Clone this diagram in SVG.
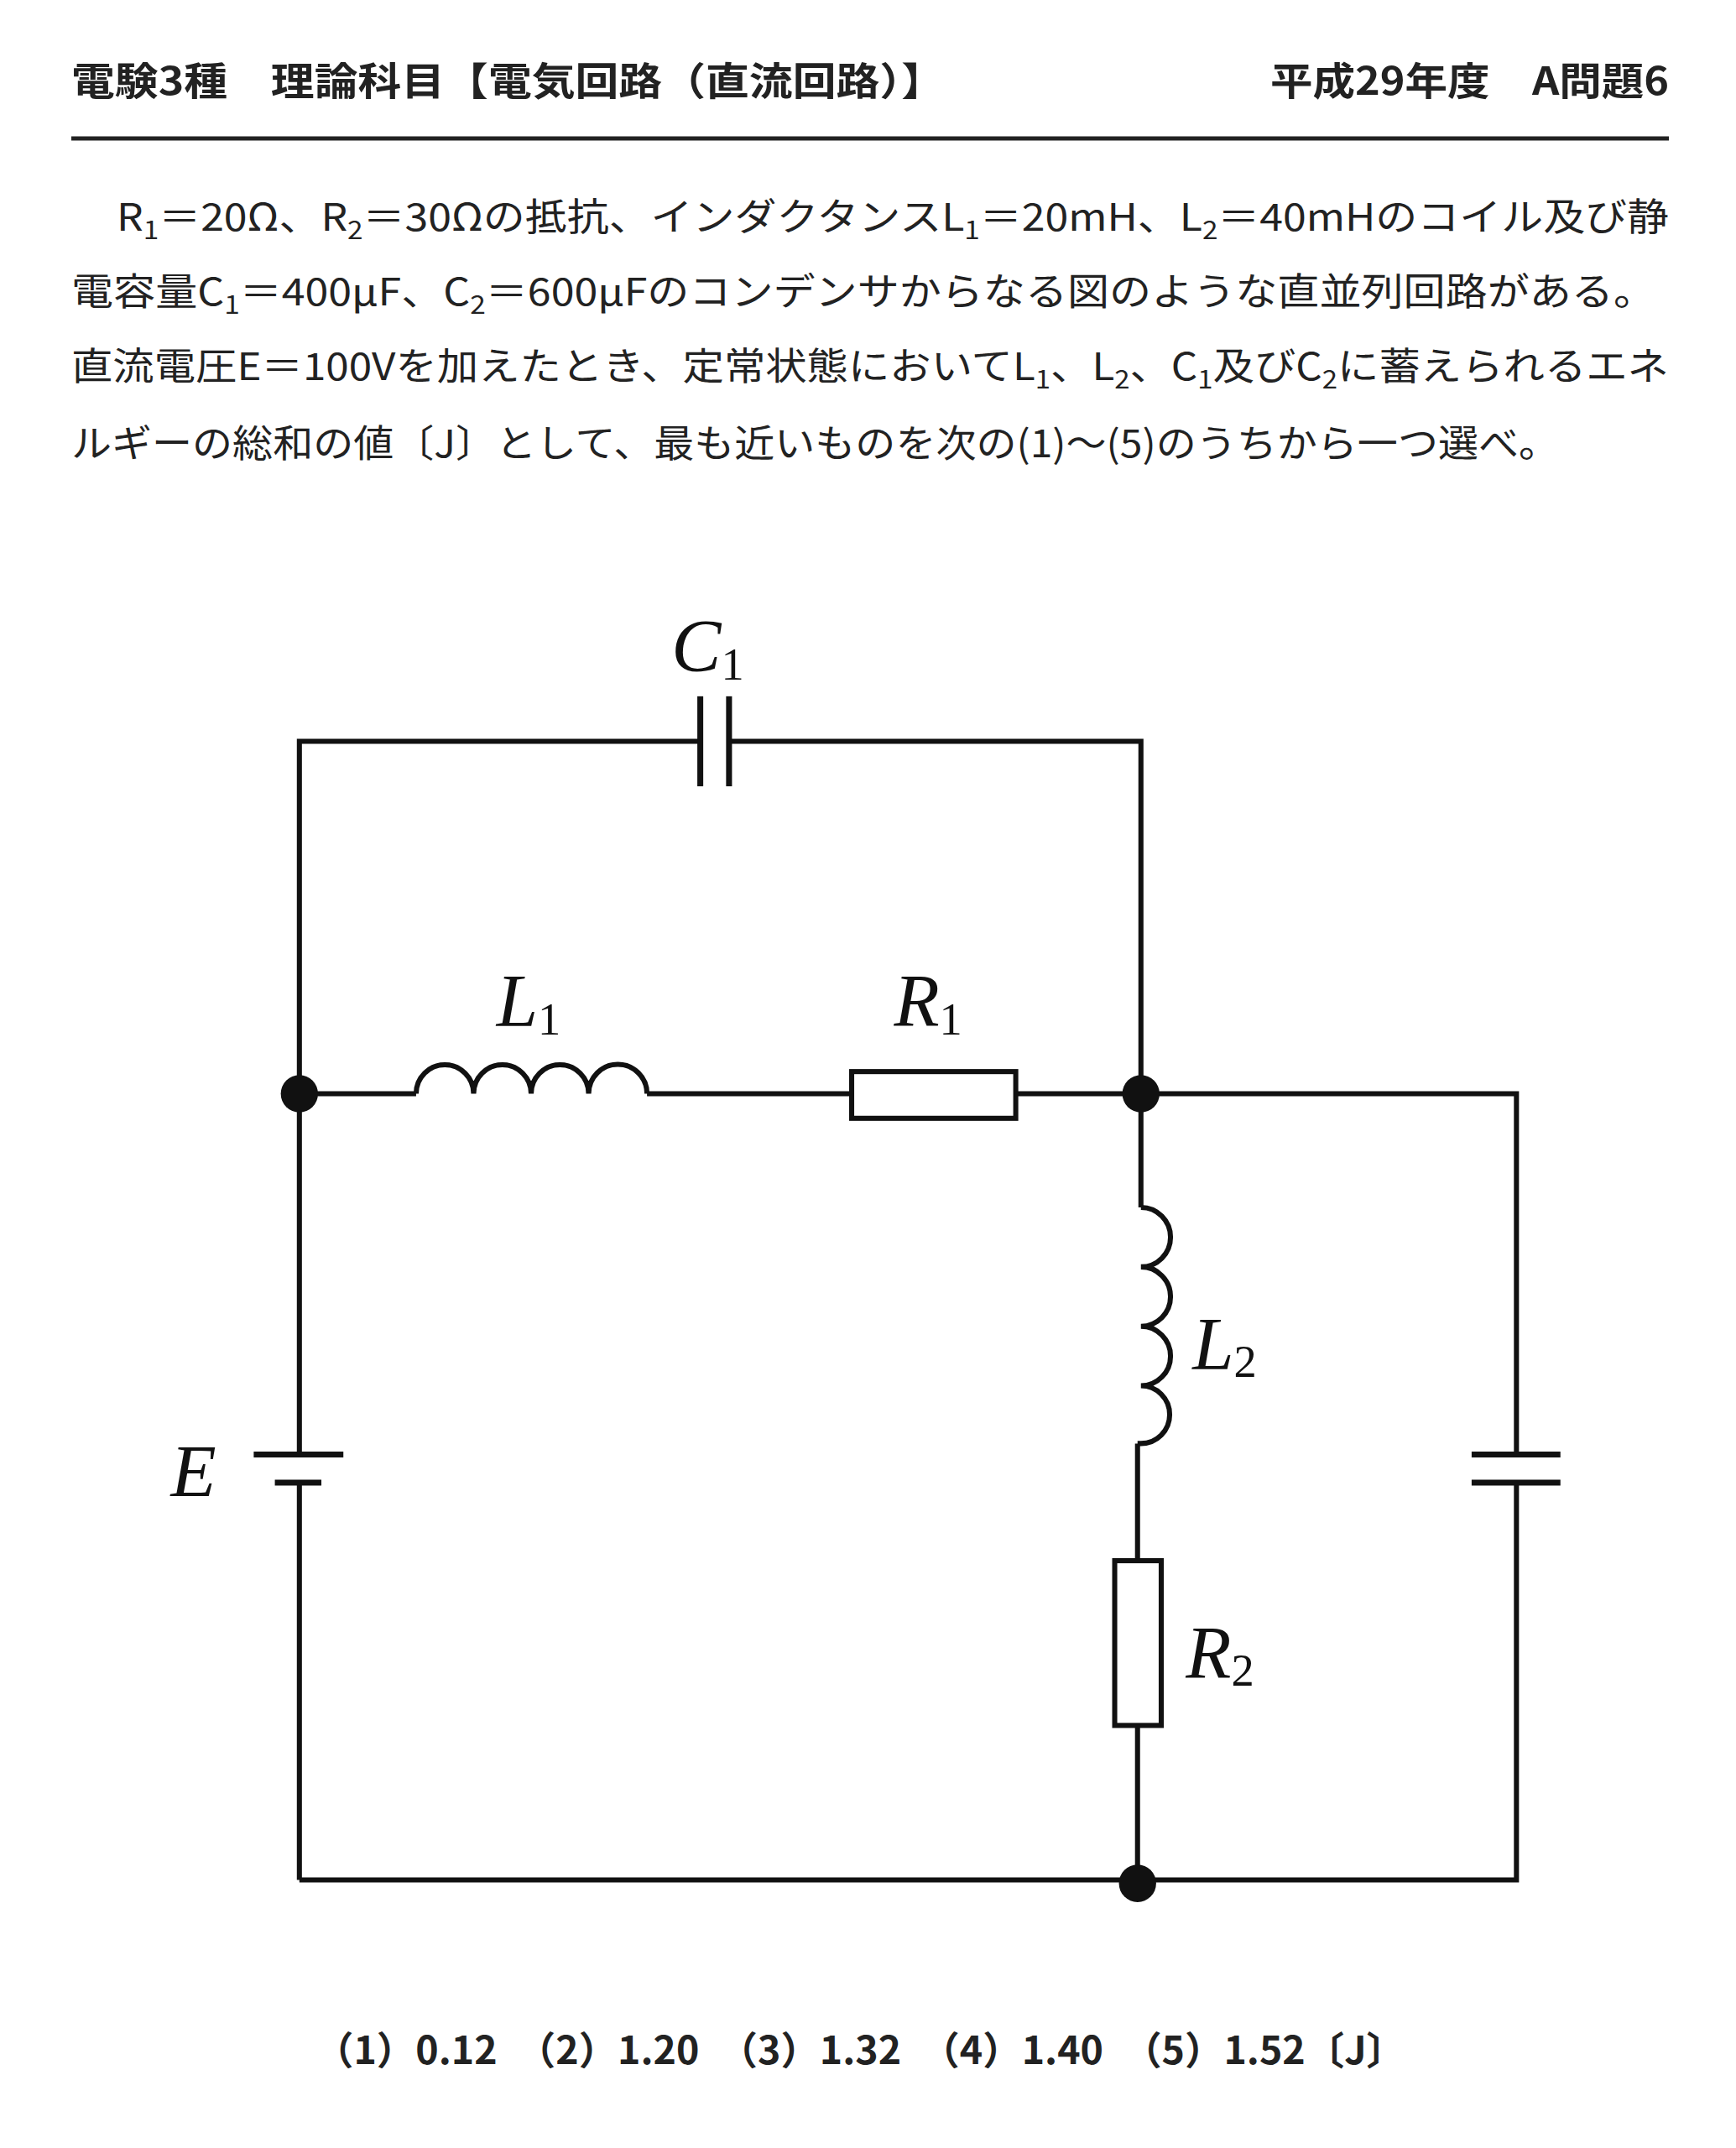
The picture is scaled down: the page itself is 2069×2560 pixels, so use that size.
<svg xmlns="http://www.w3.org/2000/svg" width="2069" height="2560" viewBox="0 0 2069 2560">
<style>
.t{font-family:"Noto Sans CJK JP","Noto Sans",sans-serif;font-size:45px;fill:#222}
.h{font-family:"Noto Sans CJK JP","Noto Sans",sans-serif;font-size:46px;font-weight:bold;fill:#222}
.lb{font-family:"Liberation Serif",serif;font-style:italic;font-size:88px;fill:#111}
.sb{font-family:"Liberation Serif",serif;font-size:54px;fill:#111}
.w{stroke:#111;stroke-width:6;fill:none}
.p{stroke:#111;stroke-width:7;fill:none}
</style>
<rect width="2069" height="2560" fill="#fff"/>
<g id="header">
<text class="h" x="85" y="113" textLength="1041" lengthAdjust="spacingAndGlyphs">電験3種　理論科目【電気回路（直流回路）】</text>
<text class="h" x="1514" y="113" textLength="475" lengthAdjust="spacingAndGlyphs">平成29年度　A問題6</text>
<line x1="85" y1="165" x2="1989" y2="165" stroke="#222" stroke-width="5"/>
</g>
<g id="question" class="t">
<text x="139" y="275" textLength="1850" lengthAdjust="spacingAndGlyphs">R<tspan font-size="30" dy="10">1</tspan><tspan dy="-10">＝20Ω、R</tspan><tspan font-size="30" dy="10">2</tspan><tspan dy="-10">＝30Ωの抵抗、インダクタンスL</tspan><tspan font-size="30" dy="10">1</tspan><tspan dy="-10">＝20mH、L</tspan><tspan font-size="30" dy="10">2</tspan><tspan dy="-10">＝40mHのコイル及び静</tspan></text>
<text x="85" y="364" textLength="1888" lengthAdjust="spacingAndGlyphs">電容量C<tspan font-size="30" dy="10">1</tspan><tspan dy="-10">＝400μF、C</tspan><tspan font-size="30" dy="10">2</tspan><tspan dy="-10">＝600μFのコンデンサからなる図のような直並列回路がある。</tspan></text>
<text x="85" y="453" textLength="1904" lengthAdjust="spacingAndGlyphs">直流電圧E＝100Vを加えたとき、定常状態においてL<tspan font-size="30" dy="10">1</tspan><tspan dy="-10">、L</tspan><tspan font-size="30" dy="10">2</tspan><tspan dy="-10">、C</tspan><tspan font-size="30" dy="10">1</tspan><tspan dy="-10">及びC</tspan><tspan font-size="30" dy="10">2</tspan><tspan dy="-10">に蓄えられるエネ</tspan></text>
<text x="85" y="545" textLength="1773" lengthAdjust="spacingAndGlyphs">ルギーの総和の値〔J〕として、最も近いものを次の(1)～(5)のうちから一つ選べ。</text>
</g>
<g transform="matrix(1.008 0 0 1.012 2 0)">
<g id="connectors" class="w">
<polyline points="826,873 352,873 352,1713"/>
<line x1="352" y1="1746" x2="352" y2="2214"/>
<polyline points="860,873 1347,873 1347,1422"/>
<line x1="352" y1="1288" x2="490" y2="1288"/>
<line x1="763" y1="1288" x2="1005" y2="1288"/>
<line x1="1199" y1="1288" x2="1347" y2="1288"/>
<polyline points="1347,1288 1791,1288 1791,1713"/>
<polyline points="1791,1746 1791,2214 352,2214"/>
<line x1="1343" y1="1700" x2="1343" y2="1838"/>
<line x1="1343" y1="2032" x2="1343" y2="2214"/>
</g>
<g id="C1"><line class="p" x1="826" y1="820" x2="826" y2="926"/><line class="p" x1="860" y1="820" x2="860" y2="926"/><text class="lb" x="792" y="790">C<tspan class="sb" dy="10" font-style="normal">1</tspan></text></g>
<g id="L1"><path class="w" d="M490,1288 a34,34 0 0 1 68,0 a34,34 0 0 1 68,0 a34,34 0 0 1 68,0 a34,34 0 0 1 69,0"/><text class="lb" x="585" y="1208">L<tspan class="sb" dy="10" font-style="normal">1</tspan></text></g>
<g id="R1"><rect class="w" x="1005" y="1262" width="194" height="55"/><text class="lb" x="1055" y="1208">R<tspan class="sb" dy="10" font-style="normal">1</tspan></text></g>
<g id="L2"><path class="w" d="M1347,1422 a35,35 0 0 1 0,70 a35,35 0 0 1 0,70 a35,35 0 0 1 0,70 a34,34 0 0 1 0,68 l-4,0"/><text class="lb" x="1408" y="1612">L<tspan class="sb" dy="10" font-style="normal">2</tspan></text></g>
<g id="R2"><rect class="w" x="1316" y="1838" width="55" height="194"/><text class="lb" x="1400" y="1975">R<tspan class="sb" dy="10" font-style="normal">2</tspan></text></g>
<g id="E"><line class="p" x1="298" y1="1713" x2="404" y2="1713"/><line class="p" x1="323" y1="1746" x2="378" y2="1746"/><text class="lb" x="200" y="1762">E</text></g>
<g id="C2"><line class="p" x1="1738" y1="1713" x2="1843" y2="1713"/><line class="p" x1="1738" y1="1746" x2="1843" y2="1746"/></g>
<g id="dots" fill="#111"><circle cx="352" cy="1288" r="22"/><circle cx="1347" cy="1288" r="22"/><circle cx="1343" cy="2218" r="22"/></g>
</g>
<g id="answers"><text class="h" x="375" y="2460" textLength="1300" lengthAdjust="spacingAndGlyphs">（1）0.12　（2）1.20　（3）1.32　（4）1.40　（5）1.52〔J〕</text></g>
</svg>
